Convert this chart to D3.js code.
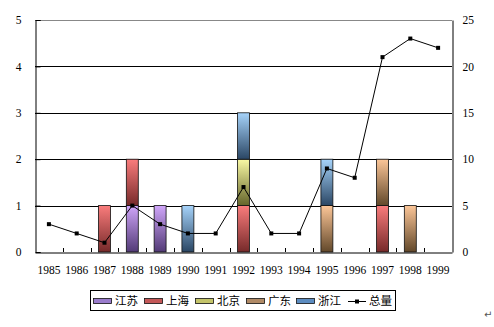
<!DOCTYPE html>
<html>
<head>
<meta charset="utf-8">
<script src="https://cdn.jsdelivr.net/npm/d3@7"></script>
<style>
  html, body { margin: 0; padding: 0; background: #fff; }
  svg { display: block; }
</style>
</head>
<body>
<svg id="chart" width="494" height="327"></svg>
<script>
// Years on the category axis
const years = ["1985","1986","1987","1988","1989","1990","1991","1992","1993","1994","1995","1996","1997","1998","1999"];

// Count per region (left axis), stacked in this order
const jiangsu  = [0,0,0,1,1,0,0,0,0,0,0,0,0,0,0];
const shanghai = [0,0,1,1,0,0,0,1,0,0,0,0,1,0,0];
const beijing  = [0,0,0,0,0,0,0,1,0,0,0,0,0,0,0];
const guangdong= [0,0,0,0,0,0,0,0,0,0,1,0,1,1,0];
const zhejiang = [0,0,0,0,0,1,0,1,0,0,1,0,0,0,0];

// Total (right axis)
const total = [3,2,1,5,3,2,2,7,2,2,9,8,21,23,22];

const seriesNames = ["江苏","上海","北京","广东","浙江"];
const leftTicks = [0,1,2,3,4,5];
const rightTicks = [0,5,10,15,20,25];

// Gradient stops per series: light at the top of a segment, dark at the bottom
const gradTop    = ["#d0a6fa","#fa7c7c","#fafaa4","#fcc698","#a6d3fa"];
const gradBottom = ["#523a76","#762a2a","#64642a","#62482a","#2a4664"];
const swatch     = ["#9a7ccc","#c45858","#c4c46a","#b08a66","#5c8cc0"];

const NUM_FONT = "'Liberation Serif', 'Times New Roman', serif";
const CJK_FONT = "'Noto Sans CJK SC', sans-serif";

const svg = d3.select("#chart");
const plot = { left: 35, right: 452, top: 20, bottom: 252 };

const x = d3.scaleBand().domain(years).range([plot.left, plot.right]).paddingInner(0).paddingOuter(0);
const yL = d3.scaleLinear().domain([0,5]).range([plot.bottom, plot.top]);
const yR = d3.scaleLinear().domain([0,25]).range([plot.bottom, plot.top]);

const defs = svg.append("defs");
seriesNames.forEach((n,i) => {
  const g = defs.append("linearGradient").attr("id","g"+i)
    .attr("x1",0).attr("y1",0).attr("x2",0).attr("y2",1);
  g.append("stop").attr("offset","0%").attr("stop-color",gradTop[i]);
  g.append("stop").attr("offset","100%").attr("stop-color",gradBottom[i]);
});

// Gridlines
svg.append("g").selectAll("line").data(leftTicks.filter(d => d > 0)).join("line")
  .attr("x1", plot.left).attr("x2", plot.right)
  .attr("y1", d => Math.round(yL(d)) + 0.5).attr("y2", d => Math.round(yL(d)) + 0.5)
  .attr("stroke", d => d === 5 ? "#888" : "#000").attr("stroke-width", 1);

// Stacked bars
const rows = years.map((yr,i) => ({ year: yr, s0: jiangsu[i], s1: shanghai[i], s2: beijing[i], s3: guangdong[i], s4: zhejiang[i] }));
const stack = d3.stack().keys(["s0","s1","s2","s3","s4"])(rows);
const barW = x.bandwidth() * 0.43;
stack.forEach((layer, i) => {
  svg.append("g").selectAll("rect").data(layer.filter(d => d[1] - d[0] > 0)).join("rect")
    .attr("x", d => x(d.data.year) + (x.bandwidth() - barW) / 2)
    .attr("y", d => yL(d[1]))
    .attr("width", barW)
    .attr("height", d => yL(d[0]) - yL(d[1]))
    .attr("fill", "url(#g" + i + ")")
    .attr("stroke", "#111").attr("stroke-width", 0.8);
});

function styleAxis(g) {
  g.attr("font-family", NUM_FONT).attr("font-size", 11.5);
  g.select(".domain").attr("stroke", "#000");
  g.selectAll(".tick line").attr("stroke", "#000");
  g.selectAll("text").attr("fill", "#000");
}

// Axes
const axL = d3.axisLeft(yL).tickValues(leftTicks).tickFormat(d3.format("d")).tickSize(-5).tickPadding(14);
svg.append("g").attr("transform", `translate(${plot.left + 0.5},0)`).call(axL).call(styleAxis);

const axR = d3.axisRight(yR).tickValues(rightTicks).tickFormat(d3.format("d")).tickSize(0).tickPadding(10);
svg.append("g").attr("transform", `translate(${plot.right + 0.5},0)`).call(axR).call(styleAxis);

const axB = d3.axisBottom(x).tickSize(0).tickPadding(13);
svg.append("g").attr("transform", `translate(0,${plot.bottom + 0.5})`).call(axB).call(styleAxis);

// Inside tick marks on the category boundaries
svg.append("g").selectAll("line").data(years.slice(1)).join("line")
  .attr("x1", d => Math.round(x(d)) + 0.5).attr("x2", d => Math.round(x(d)) + 0.5)
  .attr("y1", plot.bottom - 4).attr("y2", plot.bottom)
  .attr("stroke", "#000");

// Total line with square markers
const line = d3.line().x((d,i) => x(years[i]) + x.bandwidth() / 2).y(d => yR(d));
svg.append("path").datum(total).attr("d", line)
  .attr("fill", "none").attr("stroke", "#000").attr("stroke-width", 1);
svg.append("g").selectAll("rect").data(total).join("rect")
  .attr("x", (d,i) => x(years[i]) + x.bandwidth() / 2 - 2)
  .attr("y", d => yR(d) - 2)
  .attr("width", 4).attr("height", 4).attr("fill", "#000");

// Legend
const lg = svg.append("g").attr("font-family", CJK_FONT).attr("font-size", 11.5);
lg.append("rect").attr("x", 90.5).attr("y", 290.5).attr("width", 305).attr("height", 20)
  .attr("fill", "#fff").attr("stroke", "#000");
const swX = [93, 144, 195, 246, 296];
seriesNames.forEach((n,i) => {
  lg.append("rect").attr("x", swX[i] + 0.5).attr("y", 298.5).attr("width", 18).attr("height", 5)
    .attr("fill", swatch[i]).attr("stroke", "#111").attr("stroke-width", 0.8);
  lg.append("text").attr("x", swX[i] + 22).attr("y", 305).text(n);
});
lg.append("line").attr("x1", 348).attr("x2", 366).attr("y1", 301.5).attr("y2", 301.5).attr("stroke", "#000");
lg.append("rect").attr("x", 355).attr("y", 299.5).attr("width", 4).attr("height", 4).attr("fill", "#000");
lg.append("text").attr("x", 369).attr("y", 305).text("总量");

// Paragraph mark below the chart
svg.append("text").attr("x", 484).attr("y", 318).attr("font-size", 10)
  .attr("font-family", "DejaVu Sans").attr("fill", "#555").text("↵");
</script>
</body>
</html>
